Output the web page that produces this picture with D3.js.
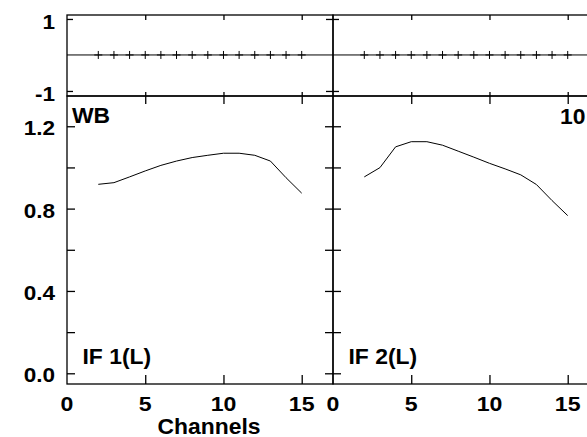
<!DOCTYPE html>
<html>
<head>
<meta charset="utf-8">
<script src="https://cdn.jsdelivr.net/npm/d3@7"></script>
<style>
  html, body { margin: 0; padding: 0; background: #fff; }
  svg { display: block; }
  text { font-family: "Liberation Sans", Arial, Helvetica, sans-serif; font-weight: bold; fill: #000; }
</style>
</head>
<body>
<svg id="chart" width="587" height="437"></svg>
<script>
// ---- data ----
const channels = [2, 3, 4, 5, 6, 7, 8, 9, 10, 11, 12, 13, 14, 15];
const if1Amp = [0.918, 0.926, 0.954, 0.983, 1.010, 1.031, 1.048, 1.059, 1.069, 1.069, 1.059, 1.031, 0.950, 0.875];
const if2Amp = [0.954, 0.999, 1.100, 1.125, 1.125, 1.108, 1.079, 1.050, 1.020, 0.993, 0.964, 0.917, 0.839, 0.766];
const if1Phase = [0, 0, 0, 0, 0, 0, 0, 0, 0, 0, 0, 0, 0, 0];
const if2Phase = [0, 0, 0, 0, 0, 0, 0, 0, 0, 0, 0, 0, 0, 0];
const xTicks = [0, 5, 10, 15];
const topYTicks = [1, -1];
const topYLabels = ["1", "-1"];
const botYTicks = [0, 0.2, 0.4, 0.6, 0.8, 1.0, 1.2];
const botYLabels = [0, 0.4, 0.8, 1.2];
const panelLabels = ["IF 1(L)", "IF 2(L)"];
const sourceLabel = "WB";
const rightLabel = "10";
const xTitle = "Channels";

// ---- layout ----
const svg = d3.select("#chart");
const L = 67, M = 333, R = 599;
const T = 15, MID = 96, B = 384;
const xL = d3.scaleLinear().domain([0, 17]).range([L, M]);
const xR = d3.scaleLinear().domain([0, 17]).range([M, R]);
const yTop = d3.scaleLinear().domain([-1.14, 1.11]).range([MID, T]);
const yBot = d3.scaleLinear().domain([-0.052, 1.347]).range([B, MID]);
const SW = 1.3;

function styleAxis(g) {
  g.select(".domain").remove();
  g.selectAll(".tick line").attr("stroke", "#000").attr("stroke-width", SW);
  g.selectAll(".tick text").remove();
}

const panels = [
  { x: xL, amp: if1Amp, ph: if1Phase, label: panelLabels[0] },
  { x: xR, amp: if2Amp, ph: if2Phase, label: panelLabels[1] }
];

panels.forEach(p => {
  const x = p.x;
  const x0 = x.range()[0], x1 = x.range()[1];
  // x ticks
  svg.append("g").attr("transform", `translate(0,${T})`)
    .call(d3.axisBottom(x).tickValues(xTicks.slice(1)).tickSize(5).tickSizeOuter(0)).call(styleAxis);
  svg.append("g").attr("transform", `translate(0,${MID})`)
    .call(d3.axisTop(x).tickValues(xTicks.slice(1)).tickSize(4).tickSizeOuter(0)).call(styleAxis);
  svg.append("g").attr("transform", `translate(0,${MID})`)
    .call(d3.axisBottom(x).tickValues(xTicks.slice(1)).tickSize(8).tickSizeOuter(0)).call(styleAxis);
  svg.append("g").attr("transform", `translate(0,${B})`)
    .call(d3.axisTop(x).tickValues(xTicks.slice(1)).tickSize(9).tickSizeOuter(0)).call(styleAxis);
  // y ticks left edge pointing right
  svg.append("g").attr("transform", `translate(${x0},0)`)
    .call(d3.axisRight(yTop).tickValues(topYTicks).tickSize(6).tickSizeOuter(0)).call(styleAxis);
  svg.append("g").attr("transform", `translate(${x0},0)`)
    .call(d3.axisRight(yBot).tickValues(botYTicks).tickSize(8).tickSizeOuter(0)).call(styleAxis);
  // y ticks right edge pointing left
  svg.append("g").attr("transform", `translate(${x1},0)`)
    .call(d3.axisLeft(yTop).tickValues(topYTicks).tickSize(7).tickSizeOuter(0)).call(styleAxis);
  svg.append("g").attr("transform", `translate(${x1},0)`)
    .call(d3.axisLeft(yBot).tickValues(botYTicks).tickSize(8).tickSizeOuter(0)).call(styleAxis);

  // frames
  svg.append("rect").attr("x", x0).attr("y", T).attr("width", x1 - x0).attr("height", MID - T)
    .attr("fill", "none").attr("stroke", "#000").attr("stroke-width", SW);
  svg.append("rect").attr("x", x0).attr("y", MID).attr("width", x1 - x0).attr("height", B - MID)
    .attr("fill", "none").attr("stroke", "#000").attr("stroke-width", SW);

  // zero line in top panel
  svg.append("line").attr("x1", x0).attr("x2", x1).attr("y1", yTop(0)).attr("y2", yTop(0))
    .attr("stroke", "#000").attr("stroke-width", 1);
  // plus markers
  const pts = channels.map((c, i) => [c, p.ph[i]]);
  svg.append("g").selectAll("path").data(pts).join("path")
    .attr("d", d => {
      const cx = x(d[0]), cy = yTop(d[1]);
      return `M${cx - 4},${cy}H${cx + 4}M${cx},${cy - 4}V${cy + 4}`;
    })
    .attr("stroke", "#000").attr("stroke-width", 1).attr("fill", "none");

  // amplitude line
  const line = d3.line().x(d => x(d[0])).y(d => yBot(d[1]));
  svg.append("path").datum(channels.map((c, i) => [c, p.amp[i]]))
    .attr("d", line).attr("fill", "none").attr("stroke", "#000").attr("stroke-width", 1);

  // x tick labels
  svg.append("g").selectAll("text").data(xTicks).join("text")
    .attr("transform", d => `translate(${x(d)},410.5) scale(1.1,1)`)
    .attr("text-anchor", "middle").attr("font-size", 21).text(d => d);

  // panel label
  svg.append("text")
    .attr("transform", `translate(${x0 + 15.5},363.5) scale(1.04,1)`)
    .attr("font-size", 22).text(p.label);
});

// y tick labels (left panel only)
svg.append("g").selectAll("text").data(topYTicks).join("text")
  .attr("transform", (d) => `translate(55,${yTop(d) + 9.8}) scale(1.1,1)`)
  .attr("text-anchor", "end").attr("font-size", 20.5).text((d, i) => topYLabels[i]);
svg.append("g").selectAll("text").data(botYLabels).join("text")
  .attr("transform", d => `translate(55,${yBot(d) + 9}) scale(1.1,1)`)
  .attr("text-anchor", "end").attr("font-size", 20.5).text(d => d.toFixed(1));

// annotations
svg.append("text").attr("transform", `translate(72,122.5) scale(1.04,1)`)
  .attr("font-size", 22).text(sourceLabel);
svg.append("text").attr("transform", `translate(560,123.5) scale(1.04,1)`)
  .attr("font-size", 22).text(rightLabel);
svg.append("text").attr("transform", `translate(209,433.5) scale(1.04,1)`)
  .attr("text-anchor", "middle").attr("font-size", 22).text(xTitle);
</script>
</body>
</html>
